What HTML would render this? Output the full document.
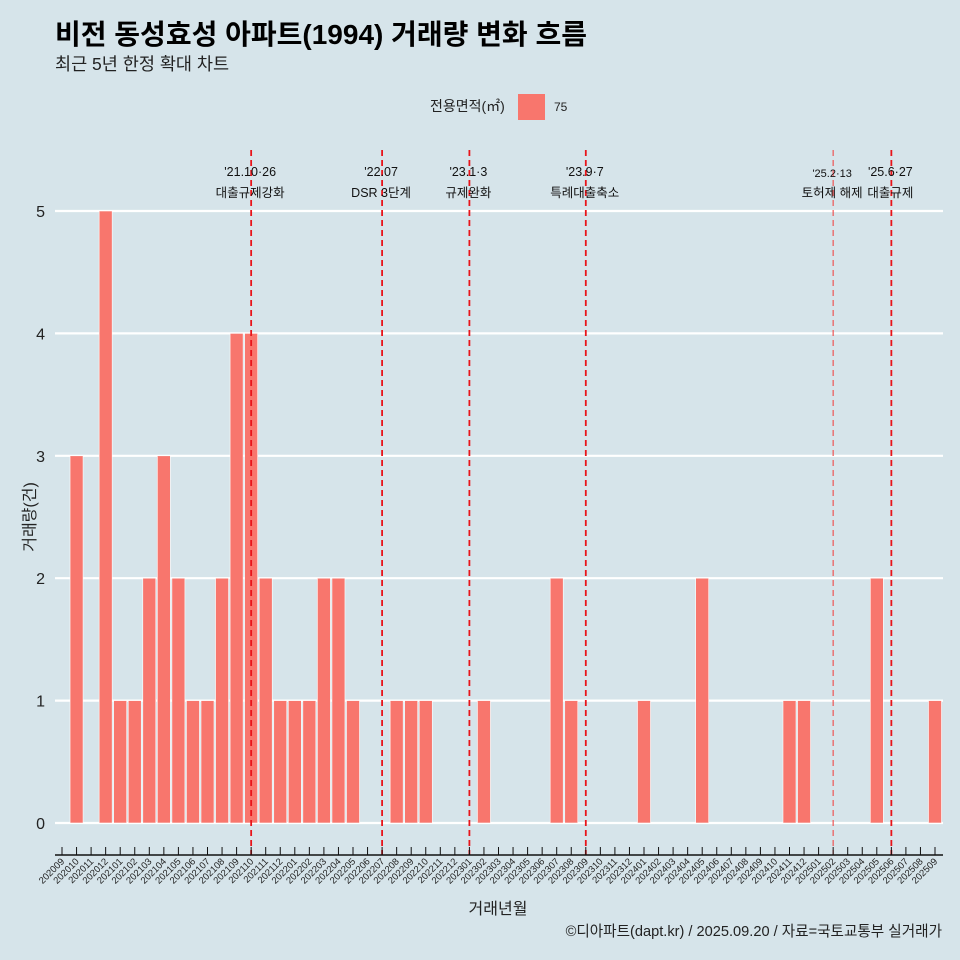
<!DOCTYPE html>
<html><head><meta charset="utf-8"><style>
body{margin:0;background:#d6e4ea;}
svg{display:block;font-family:"Liberation Sans","Noto Sans CJK KR",sans-serif;}
</style></head><body>
<svg id="c" width="960" height="960" viewBox="0 0 960 960">
<rect width="960" height="960" fill="#d6e4ea"/>
<text x="55" y="44" font-size="28" font-weight="bold" fill="#000">비전 동성효성 아파트(1994) 거래량 변화 흐름</text>
<text x="55" y="70" font-size="17.5" fill="#222">최근 5년 한정 확대 차트</text>
<g>
<text x="430" y="111" font-size="14" fill="#222">전용면적(㎡)</text>
<rect x="518" y="94" width="27" height="26" fill="#f8766d"/>
<text x="554" y="111" font-size="12" fill="#222">75</text>
</g>
<g id="grid"></g><g id="bars"></g><g id="vlines"></g><g id="xaxis"></g>
<text transform="translate(35,517) rotate(-90)" text-anchor="middle" font-size="16" fill="#222">거래량(건)</text>
<text x="498" y="914" text-anchor="middle" font-size="16" fill="#222">거래년월</text>
<text x="942" y="936" text-anchor="end" font-size="14.6" fill="#222">©디아파트(dapt.kr) / 2025.09.20 / 자료=국토교통부 실거래가</text>
</svg>
<script>
const categories=["202009","202010","202011","202012","202101","202102","202103","202104","202105","202106","202107","202108","202109","202110","202111","202112","202201","202202","202203","202204","202205","202206","202207","202208","202209","202210","202211","202212","202301","202302","202303","202304","202305","202306","202307","202308","202309","202310","202311","202312","202401","202402","202403","202404","202405","202406","202407","202408","202409","202410","202411","202412","202501","202502","202503","202504","202505","202506","202507","202508","202509"];
const values=[0,3,0,5,1,1,2,3,2,1,1,2,4,4,2,1,1,1,2,2,1,0,0,1,1,1,0,0,0,1,0,0,0,0,2,1,0,0,0,0,1,0,0,0,2,0,0,0,0,0,1,1,0,0,0,0,2,0,0,0,1];
const yTicks=[0,1,2,3,4,5];
const eventMonths=["202110","202207","202301","202309","202502","202506"];
const eventDates=["'21.10·26","'22.07","'23.1·3","'23.9·7","'25.2·13","'25.6·27"];
const eventLabels=["대출규제강화","DSR 3단계","규제완화","특례대출축소","토허제 해제","대출규제"];
const NS="http://www.w3.org/2000/svg";
const x0=62,step=14.55,y0=823,yu=122.4,bw=13;
const xs=i=>x0+i*step, ys=v=>y0-v*yu;
function mk(t,a,p){const e=document.createElementNS(NS,t);for(const k in a)e.setAttribute(k,a[k]);p.appendChild(e);return e;}
const grid=document.getElementById('grid');
yTicks.forEach(v=>{
 const l=mk('line',{x1:55,x2:943,y1:ys(v),y2:ys(v),stroke:'#fff','stroke-width':2.2},grid);
 
 
 const t=mk('text',{x:45,y:ys(v)+6,'text-anchor':'end','font-size':16,fill:'#222'},grid);t.textContent=v;
 
 
});
const bars=document.getElementById('bars');
values.forEach((v,i)=>{
 const r=mk('rect',{x:xs(i)-bw/2,y:ys(v),width:bw,height:v*yu,fill:'#f8766d',stroke:'#fff','stroke-width':0.6},bars);
 
 
});
const vl=document.getElementById('vlines');
eventMonths.forEach((m,k)=>{
 const i=categories.indexOf(m),x=xs(i);
 const thin=m==="202502";
 const l=mk('line',{x1:x,x2:x,y1:150,y2:855,stroke:thin?'#ee5555':'#e8141a','stroke-width':thin?1.2:1.8,'stroke-dasharray':'6,4'},vl);
 
 
 const t1=mk('text',{x:x-1,y:thin?177:176,'text-anchor':'middle','font-size':thin?11:12.5,fill:'#111'},vl);t1.textContent=eventDates[k];
 
 
 const t2=mk('text',{x:x-1,y:197,'text-anchor':'middle','font-size':12.5,fill:'#111'},vl);t2.textContent=eventLabels[k];
 
 
});
const xa=document.getElementById('xaxis');
const ax=mk('line',{x1:55,x2:943,y1:855,y2:855,stroke:'#111','stroke-width':1.5},xa);


categories.forEach((c,i)=>{
 const x=xs(i);
 mk('line',{x1:x,x2:x,y1:847,y2:855,stroke:'#111','stroke-width':1},xa);
 const t=mk('text',{transform:`translate(${x+3},${862}) rotate(-45)`,'text-anchor':'end','font-size':9.5,fill:'#222'},xa);t.textContent=c;
 
 
});
</script>
</body></html>
